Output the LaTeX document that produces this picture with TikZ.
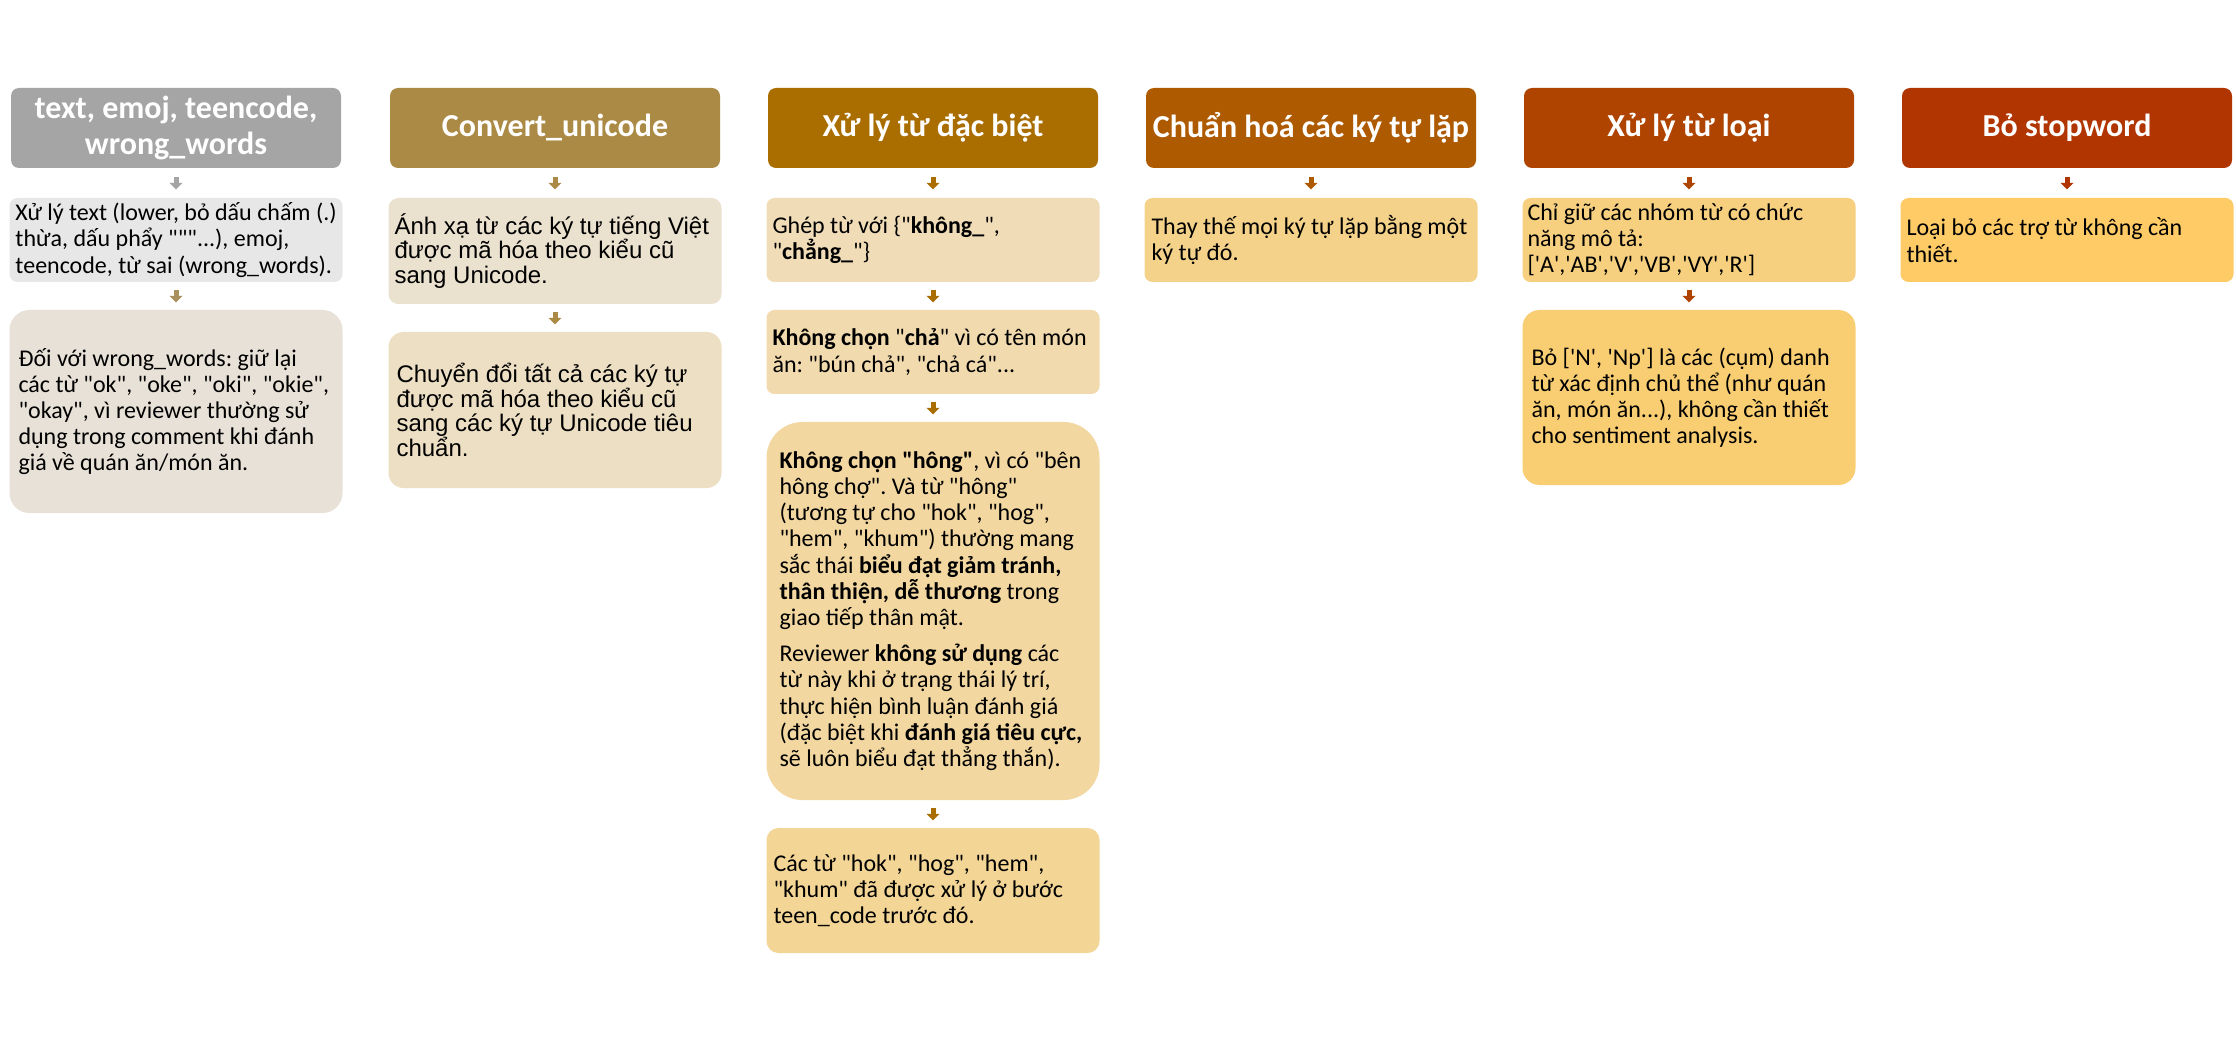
\documentclass[tikz,border=0pt]{standalone}
\usepackage{fontspec}
\newfontfamily\calfont{Carlito}
\newfontfamily\arifont{Liberation Sans}
\usetikzlibrary{arrows.meta}
\definecolor{hA}{HTML}{A5A5A5}
\definecolor{hB}{HTML}{AB8A46}
\definecolor{hC}{HTML}{AA6E00}
\definecolor{hD}{HTML}{AE5A00}
\definecolor{hE}{HTML}{AF4400}
\definecolor{hF}{HTML}{B13500}
\definecolor{aA}{HTML}{A8915E}
\definecolor{fAa}{HTML}{E7E7E7}
\definecolor{fAb}{HTML}{E8E1D7}
\definecolor{fBa}{HTML}{EBE1CF}
\definecolor{fBb}{HTML}{EDDFC3}
\definecolor{fCa}{HTML}{F0DDB8}
\definecolor{fCb}{HTML}{F1DAAD}
\definecolor{fCc}{HTML}{F2D7A0}
\definecolor{fCd}{HTML}{F3D596}
\definecolor{fD}{HTML}{F5D28A}
\definecolor{fEa}{HTML}{F7D07F}
\definecolor{fEb}{HTML}{F9CE72}
\definecolor{fF}{HTML}{FECB66}
\begin{document}
\begin{tikzpicture}[x=1pt,y=-1pt,
  hdr/.style={fill=#1, rounded corners=8pt, text=white,
    font=\calfont\fontsize{32}{36.7}\selectfont\bfseries,
    minimum width=330pt, minimum height=80pt, inner sep=0pt, align=center},
  bxs/.style={fill=#1, minimum width=333pt, inner sep=0pt},
  tx/.style={anchor=west, inner sep=0pt, align=left, text=black,
    font=\calfont\fontsize{24}{26.2}\selectfont\frenchspacing},
  txa/.style={anchor=west, inner sep=0pt, align=left, text=black,
    font=\arifont\fontsize{24}{24.8}\selectfont\frenchspacing},
  arr/.style 2 args={draw=#1, line width=5pt, -{Triangle[width=13pt,length=6.5pt]},
    shorten <=#2, shorten >=#2}
]
\fill[white] (0,0) rectangle (2236,1040);
\useasboundingbox (0,0) rectangle (2236,1040);

% column 1
\node[hdr=hA] (h1) at (176,128) {text, emoj, teencode,\\wrong\_words};
\node[bxs=fAa, rounded corners=8pt, minimum height=84pt] (b1a) at (176,240) {};
\node[tx] (t1a) at ([xshift=6pt]b1a.west)
 {Xử lý text (lower, bỏ dấu chấm (.)\\thừa, dấu phẩy """...), emoj,\\teencode, từ sai (wrong\_words).};
\node[bxs=fAb, rounded corners=20pt, minimum height=203pt] (b1b) at (176,411.5) {};
\node[tx] (t1b) at ([xshift=9pt]b1b.west)
 {Đối với wrong\_words: giữ lại\\các từ "ok", "oke", "oki", "okie",\\"okay", vì reviewer thường sử\\dụng trong comment khi đánh\\giá về quán ăn/món ăn.};
\draw[arr={hA}{8.5pt}] (h1.south) -- (b1a.north);
\draw[arr={aA}{7.5pt}] (b1a.south) -- (b1b.north);

% column 2
\node[hdr=hB] (h2) at (555,128) {Convert\_unicode};
\node[bxs=fBa, rounded corners=10pt, minimum height=106pt] (b2a) at (555,251) {};
\node[txa] (t2a) at ([xshift=6pt]b2a.west)
 {Ánh xạ từ các ký tự tiếng Việt\\được mã hóa theo kiểu cũ\\sang Unicode.};
\node[bxs=fBb, rounded corners=15pt, minimum height=156pt] (b2b) at (555,410) {};
\node[txa] (t2b) at ([xshift=8pt]b2b.west)
 {Chuyển đổi tất cả các ký tự\\được mã hóa theo kiểu cũ\\sang các ký tự Unicode tiêu\\chuẩn.};
\draw[arr={hB}{8.5pt}] (h2.south) -- (b2a.north);
\draw[arr={hB}{7.5pt}] (b2a.south) -- (b2b.north);

% column 3
\node[hdr=hC] (h3) at (933,128) {Xử lý từ đặc biệt};
\node[bxs=fCa, rounded corners=8pt, minimum height=84pt] (b3a) at (933,240) {};
\node[tx] (t3a) at ([xshift=6pt]b3a.west)
 {Ghép từ với \{"\textbf{không\_}",\\"\textbf{chẳng\_}"\}};
\node[bxs=fCb, rounded corners=8pt, minimum height=84pt] (b3b) at (933,352) {};
\node[tx] (t3b) at ([xshift=6pt]b3b.west)
 {\textbf{Không chọn} "\textbf{chả}" vì có tên món\\ăn: "bún chả", "chả cá"...};
\node[bxs=fCc, rounded corners=36pt, minimum height=378pt] (b3c) at (933,611) {};
\node[tx] (t3c) at ([xshift=13pt]b3c.west)
 {\textbf{Không chọn "hông"}, vì có "bên\\hông chợ". Và từ "hông"\\(tương tự cho "hok", "hog",\\"hem", "khum") thường mang\\sắc thái \textbf{biểu đạt giảm tránh,}\\\textbf{thân thiện, dễ thương} trong\\giao tiếp thân mật.\\[10pt]Reviewer \textbf{không sử dụng} các\\từ này khi ở trạng thái lý trí,\\thực hiện bình luận đánh giá\\(đặc biệt khi \textbf{đánh giá tiêu cực,}\\sẽ luôn biểu đạt thẳng thắn).};
\node[bxs=fCd, rounded corners=12pt, minimum height=125pt] (b3d) at (933,890.5) {};
\node[tx] (t3d) at ([xshift=7pt]b3d.west)
 {Các từ "hok", "hog", "hem",\\"khum" đã được xử lý ở bước\\teen\_code trước đó.};
\draw[arr={hC}{8.5pt}] (h3.south) -- (b3a.north);
\draw[arr={hC}{7.5pt}] (b3a.south) -- (b3b.north);
\draw[arr={hC}{7.5pt}] (b3b.south) -- (b3c.north);
\draw[arr={hC}{7.5pt}] (b3c.south) -- (b3d.north);

% column 4
\node[hdr=hD] (h4) at (1311,128) {Chuẩn hoá các ký tự lặp};
\node[bxs=fD, rounded corners=8pt, minimum height=84pt] (b4a) at (1311,240) {};
\node[tx] (t4a) at ([xshift=7pt]b4a.west)
 {Thay thế mọi ký tự lặp bằng một\\ký tự đó.};
\draw[arr={hD}{8.5pt}] (h4.south) -- (b4a.north);

% column 5
\node[hdr=hE] (h5) at (1689,128) {Xử lý từ loại};
\node[bxs=fEa, rounded corners=8pt, minimum height=84pt] (b5a) at (1689,240) {};
\node[tx] (t5a) at ([xshift=5pt]b5a.west)
 {Chỉ giữ các nhóm từ có chức\\năng mô tả:\\{}['A','AB','V','VB','VY','R']};
\node[bxs=fEb, rounded corners=17pt, minimum height=175pt] (b5b) at (1689,397.5) {};
\node[tx] (t5b) at ([xshift=9pt]b5b.west)
 {Bỏ ['N', 'Np'] là các (cụm) danh\\từ xác định chủ thể (như quán\\ăn, món ăn...), không cần thiết\\cho sentiment analysis.};
\draw[arr={hE}{8.5pt}] (h5.south) -- (b5a.north);
\draw[arr={hE}{7.5pt}] (b5a.south) -- (b5b.north);

% column 6
\node[hdr=hF] (h6) at (2067,128) {Bỏ stopword};
\node[bxs=fF, rounded corners=8pt, minimum height=84pt] (b6a) at (2067,240) {};
\node[tx] (t6a) at ([xshift=6pt]b6a.west)
 {Loại bỏ các trợ từ không cần\\thiết.};
\draw[arr={hF}{8.5pt}] (h6.south) -- (b6a.north);
\end{tikzpicture}
\end{document}
